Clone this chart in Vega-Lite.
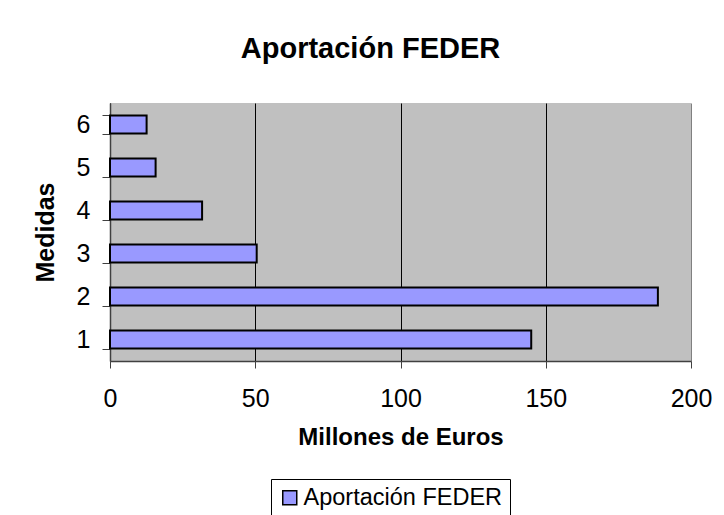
{
  "$schema": "https://vega.github.io/schema/vega-lite/v6.json",
  "width": 581,
  "height": 258,
  "autosize": "none",
  "padding": {"left": 110, "top": 103, "right": 33, "bottom": 154},
  "background": "white",
  "title": {
    "text": "Aportación FEDER",
    "font": "Liberation Sans",
    "fontSize": 29,
    "fontWeight": "bold",
    "color": "black",
    "anchor": "middle",
    "frame": "group",
    "dx": -30,
    "offset": 27
  },
  "data": {
    "values": [
      {"medida": 1, "valor": 145, "serie": "Aportación FEDER"},
      {"medida": 2, "valor": 188.6, "serie": "Aportación FEDER"},
      {"medida": 3, "valor": 50.5, "serie": "Aportación FEDER"},
      {"medida": 4, "valor": 31.7, "serie": "Aportación FEDER"},
      {"medida": 5, "valor": 15.7, "serie": "Aportación FEDER"},
      {"medida": 6, "valor": 12.6, "serie": "Aportación FEDER"}
    ]
  },
  "mark": {"type": "bar", "stroke": "black", "strokeWidth": 2},
  "encoding": {
    "y": {
      "field": "medida",
      "type": "ordinal",
      "sort": "descending",
      "scale": {"paddingInner": 0.58, "paddingOuter": 0.29},
      "axis": {
        "title": "Medidas",
        "titleFont": "Liberation Sans",
        "titleFontSize": 25,
        "titleFontWeight": "bold",
        "titleColor": "black",
        "titlePadding": 18,
        "labelFont": "Liberation Sans",
        "labelFontSize": 25,
        "labelColor": "black",
        "labelPadding": 12,
        "tickBand": "extent",
        "tickSize": 8,
        "tickColor": "#404040",
        "domainColor": "#404040",
        "domainWidth": 1.5,
        "grid": false
      }
    },
    "x": {
      "field": "valor",
      "type": "quantitative",
      "scale": {"domain": [0, 200], "nice": false},
      "axis": {
        "title": "Millones de Euros",
        "titleFont": "Liberation Sans",
        "titleFontSize": 24,
        "titleFontWeight": "bold",
        "titleColor": "black",
        "titlePadding": 14,
        "values": [0, 50, 100, 150, 200],
        "labelFont": "Liberation Sans",
        "labelFontSize": 25,
        "labelColor": "black",
        "labelPadding": 18,
        "labelFlush": false,
        "tickSize": 7,
        "tickColor": "#404040",
        "domainColor": "#404040",
        "domainWidth": 1.5,
        "grid": true,
        "gridColor": {"condition": {"test": "datum.value === 200", "value": "#808080"}, "value": "black"},
        "gridWidth": 1,
        "gridOpacity": 1
      }
    },
    "color": {
      "field": "serie",
      "type": "nominal",
      "scale": {"domain": ["Aportación FEDER"], "range": ["#9999FF"]},
      "legend": {
        "title": null,
        "orient": "none",
        "legendX": 161,
        "legendY": 376,
        "symbolType": "square",
        "symbolSize": 196,
        "symbolStrokeColor": "black",
        "symbolStrokeWidth": 1.5,
        "symbolOpacity": 1,
        "labelFont": "Liberation Sans",
        "labelFontSize": 23.5,
        "labelColor": "black",
        "labelOffset": 2,
        "labelLimit": 0,
        "strokeColor": "black",
        "fillColor": "white",
        "padding": 7
      }
    }
  },
  "config": {
    "view": {"fill": "#C0C0C0", "stroke": null}
  }
}
